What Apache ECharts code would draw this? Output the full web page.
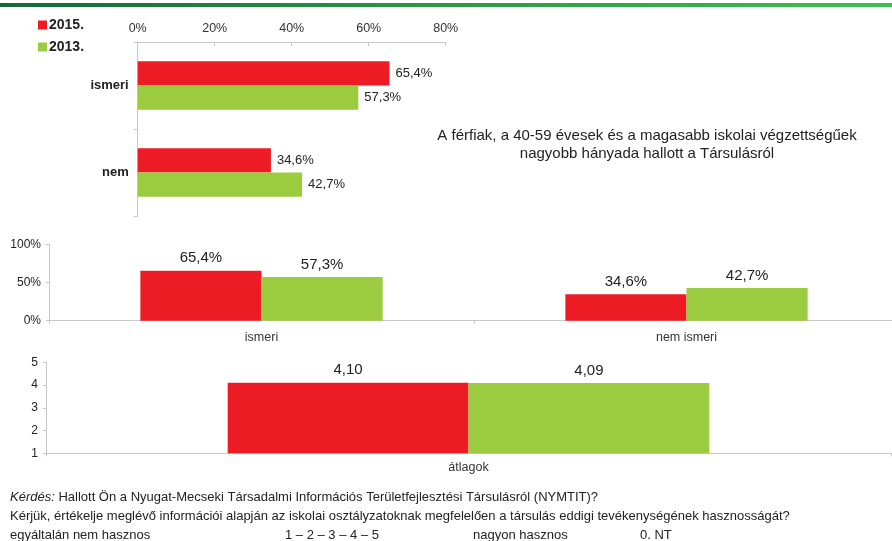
<!DOCTYPE html>
<html>
<head>
<meta charset="utf-8">
<script src="https://cdn.jsdelivr.net/npm/echarts@6/dist/echarts.min.js"></script>
<style>
html,body{margin:0;padding:0;background:#fff;}
#c{width:892px;height:541px;}
</style>
</head>
<body>
<div id="c"></div>
<script>
// ---- data ----
var seriesNames = ['2015.', '2013.'];
var topCategories = ['ismeri', 'nem'];
var top2015 = [65.4, 34.6];
var top2013 = [57.3, 42.7];

var midCategories = ['ismeri', 'nem ismeri'];
var mid2015 = [65.4, 34.6];
var mid2013 = [57.3, 42.7];

var botCategories = ['átlagok'];
var bot2015 = [4.10];
var bot2013 = [4.09];

var noteText = ['A férfiak, a 40-59 évesek és a magasabb iskolai végzettségűek', 'nagyobb hányada hallott a Társulásról'];
var questionLines = [
  'Hallott Ön a Nyugat-Mecseki Társadalmi Információs Területfejlesztési Társulásról (NYMTIT)?',
  'Kérjük, értékelje meglévő információi alapján az iskolai osztályzatoknak megfelelően a társulás eddigi tevékenységének hasznosságát?'
];
var scaleLine = ['egyáltalán nem hasznos', '1 – 2 – 3 – 4 – 5', 'nagyon hasznos', '0. NT'];

// ---- style ----
var RED = '#ED1C24', GREEN = '#9BCB3E';
var FONT = '"Liberation Sans", Arial, sans-serif';
var axisLineStyle = {lineStyle: {color: '#c8c8c8', width: 1}};
function pct1(p) { return p.value.toFixed(1).replace('.', ',') + '%'; }
function dec2(p) { return p.value.toFixed(2).replace('.', ','); }

var chart = echarts.init(document.getElementById('c'), null, {renderer: 'canvas'});

var option = {
  animation: false,
  textStyle: {fontFamily: FONT},
  legend: {
    data: seriesNames,
    orient: 'vertical',
    left: 33, top: 13,
    icon: 'rect', itemWidth: 9, itemHeight: 9, itemGap: 8,
    textStyle: {fontFamily: FONT, fontSize: 14, fontWeight: 'bold', color: '#222', padding: [0, 0, 0, -3]},
    selectedMode: false
  },
  grid: [
    {left: 137.7, top: 42, width: 308, height: 174, outerBoundsMode: 'none'},
    {left: 49, top: 244.3, width: 850, height: 76.4, outerBoundsMode: 'none'},
    {left: 46, top: 362.3, width: 845, height: 91, outerBoundsMode: 'none'}
  ],
  xAxis: [
    {gridIndex: 0, type: 'value', position: 'top', min: 0, max: 80, interval: 20,
      axisLine: {show: true, lineStyle: {color: '#c8c8c8'}}, axisTick: {show: true, inside: true, length: 4, lineStyle: {color: '#c8c8c8'}},
      splitLine: {show: false},
      axisLabel: {formatter: '{value}%', fontSize: 12.5, color: '#333', margin: 7}},
    {gridIndex: 1, type: 'category', data: midCategories,
      axisLine: axisLineStyle, axisTick: {show: true, length: 3, lineStyle: {color: '#c8c8c8'}},
      axisLabel: {fontSize: 12.5, color: '#333', margin: 10}},
    {gridIndex: 2, type: 'category', data: botCategories,
      axisLine: axisLineStyle, axisTick: {show: true, length: 3, lineStyle: {color: '#c8c8c8'}},
      axisLabel: {fontSize: 12.5, color: '#333', margin: 8}}
  ],
  yAxis: [
    {gridIndex: 0, type: 'category', data: topCategories, inverse: true,
      axisLine: axisLineStyle, axisTick: {show: true, length: 4, lineStyle: {color: '#c8c8c8'}},
      axisLabel: {fontSize: 13, fontWeight: 'bold', color: '#222', margin: 9}},
    {gridIndex: 1, type: 'value', min: 0, max: 100, interval: 50,
      axisLine: {show: true, lineStyle: {color: '#c8c8c8'}}, axisTick: {show: true, length: 3, lineStyle: {color: '#c8c8c8'}},
      splitLine: {show: false},
      axisLabel: {formatter: '{value}%', fontSize: 12, color: '#222', margin: 8}},
    {gridIndex: 2, type: 'value', min: 1, max: 5, interval: 1,
      axisLine: {show: true, lineStyle: {color: '#c8c8c8'}}, axisTick: {show: true, length: 3, lineStyle: {color: '#c8c8c8'}},
      splitLine: {show: false},
      axisLabel: {fontSize: 12, color: '#222', margin: 8}}
  ],
  series: [
    {name: seriesNames[0], type: 'bar', xAxisIndex: 0, yAxisIndex: 0, data: top2015, barGap: '0%', barCategoryGap: '44%',
      itemStyle: {color: RED}, label: {show: true, position: 'right', distance: 6, formatter: pct1, fontSize: 13, color: '#222'}},
    {name: seriesNames[1], type: 'bar', xAxisIndex: 0, yAxisIndex: 0, data: top2013, barGap: '0%', barCategoryGap: '44%',
      itemStyle: {color: GREEN}, label: {show: true, position: 'right', distance: 6, formatter: pct1, fontSize: 13, color: '#222'}},
    {name: seriesNames[0], type: 'bar', xAxisIndex: 1, yAxisIndex: 1, data: mid2015, barGap: '0%', barCategoryGap: '43%',
      itemStyle: {color: RED}, label: {show: true, position: 'top', distance: 5, formatter: pct1, fontSize: 15, color: '#222'}},
    {name: seriesNames[1], type: 'bar', xAxisIndex: 1, yAxisIndex: 1, data: mid2013, barGap: '0%', barCategoryGap: '43%',
      itemStyle: {color: GREEN}, label: {show: true, position: 'top', distance: 5, formatter: pct1, fontSize: 15, color: '#222'}},
    {name: seriesNames[0], type: 'bar', xAxisIndex: 2, yAxisIndex: 2, data: bot2015, barGap: '0%', barCategoryGap: '43%',
      itemStyle: {color: RED}, label: {show: true, position: 'top', distance: 5, formatter: dec2, fontSize: 15, color: '#222'}},
    {name: seriesNames[1], type: 'bar', xAxisIndex: 2, yAxisIndex: 2, data: bot2013, barGap: '0%', barCategoryGap: '43%',
      itemStyle: {color: GREEN}, label: {show: true, position: 'top', distance: 5, formatter: dec2, fontSize: 15, color: '#222'}}
  ],
  graphic: [
    {type: 'rect', left: 0, top: 3, shape: {width: 892, height: 4},
      style: {fill: new echarts.graphic.LinearGradient(0, 0, 1, 0, [
        {offset: 0, color: '#17663a'}, {offset: 0.5, color: '#2a9a45'}, {offset: 1, color: '#3fbf4f'}])}},
    {type: 'text', x: 647, y: 136, style: {text: noteText[0], font: '15px ' + FONT, fill: '#222', align: 'center', verticalAlign: 'middle'}},
    {type: 'text', x: 647, y: 154, style: {text: noteText[1], font: '15px ' + FONT, fill: '#222', align: 'center', verticalAlign: 'middle'}},
    {type: 'text', x: 10, y: 497, style: {
      text: '{i|Kérdés:} ' + questionLines[0], font: '13px ' + FONT, fill: '#222', verticalAlign: 'middle',
      rich: {i: {fontStyle: 'italic', fontFamily: FONT, fontSize: 13, fill: '#222'}}}},
    {type: 'text', x: 10, y: 516, style: {text: questionLines[1], font: '13px ' + FONT, fill: '#222', verticalAlign: 'middle'}},
    {type: 'text', x: 10, y: 535, style: {text: scaleLine[0], font: '13px ' + FONT, fill: '#222', verticalAlign: 'middle'}},
    {type: 'text', x: 285, y: 535, style: {text: scaleLine[1], font: '13px ' + FONT, fill: '#222', verticalAlign: 'middle'}},
    {type: 'text', x: 473, y: 535, style: {text: scaleLine[2], font: '13px ' + FONT, fill: '#222', verticalAlign: 'middle'}},
    {type: 'text', x: 640, y: 535, style: {text: scaleLine[3], font: '13px ' + FONT, fill: '#222', verticalAlign: 'middle'}}
  ]
};
chart.setOption(option);
</script>
</body>
</html>
